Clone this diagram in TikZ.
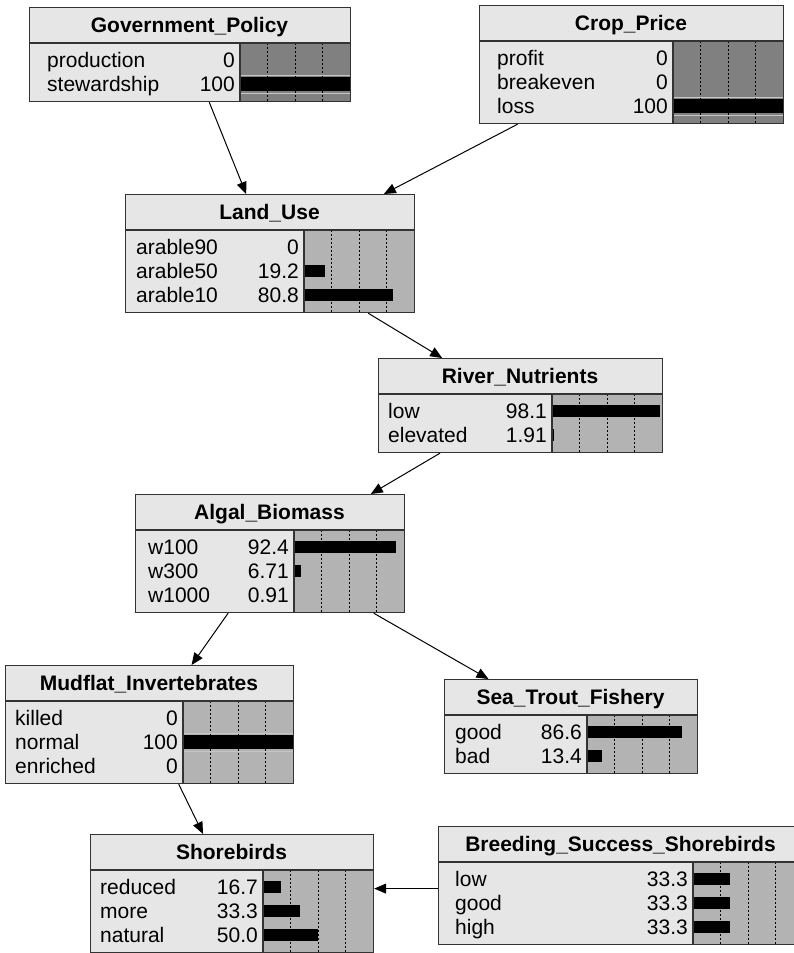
\documentclass[tikz,border=0pt]{standalone}
\usepackage{fontspec}
\setmainfont{Liberation Sans}
\usetikzlibrary{arrows.meta}
\definecolor{nodebg}{HTML}{E6E6E6}
\definecolor{barlight}{HTML}{B3B3B3}
\definecolor{bardark}{HTML}{808080}
\definecolor{edge}{HTML}{333333}

% \bnnode[bar fill]{name}{left}{top}{label x}{bar x}{rows}{title}{state/value,...}
\newcommand{\bnnode}[9][barlight]{%
  \pgfmathsetmacro\bnmid{#4+36}
  \pgfmathsetmacro\bnbot{#4+46+24*#7}
  \pgfmathsetmacro\bnright{#6+110}
  \pgfmathsetmacro\bnw{\bnright-#3}
  \pgfmathsetmacro\bnh{46+24*#7}
  \fill[nodebg] (#3,#4) rectangle (\bnright,\bnbot);
  \fill[#1] (#6,\bnmid) rectangle (\bnright,\bnbot);
  \foreach \k in {1,2,3} {\draw[quarter] (#6+27.5*\k,\bnmid) -- (#6+27.5*\k,\bnbot);}
  \foreach \lab/\val [count=\i] in {#9} {
    \pgfmathsetmacro\yc{\bnmid+24*\i-7}
    \node[txt,anchor=base west] at (#5,\yc+7) {\lab};
    \node[txt,anchor=base east] at (#6-5,\yc+7) {\val};
    \ifdim\val pt=100pt
      \draw[gray!45,line width=1pt] (#6,\yc-9) -- ++(110,0) (#6,\yc+9) -- ++(110,0);
      \fill (#6,\yc-7) rectangle (\bnright,\yc+7);
    \else
      \fill (#6,\yc-6) rectangle (#6+1.1*\val,\yc+6);
    \fi
  }
  \draw[edge,line width=1.2pt] (#3,\bnmid) -- (\bnright,\bnmid) (#6,\bnmid) -- (#6,\bnbot);
  \node[bnbox,minimum width=\bnw pt,minimum height=\bnh pt] (#2) at (#3,#4) {};
  \node[title,anchor=base] at ({(#3+\bnright)/2},{#4+25}) {#8};
}

\begin{document}
\begin{tikzpicture}[x=1pt,y=-1pt,
  font=\fontsize{21}{24}\selectfont,
  txt/.style={inner sep=0pt},
  title/.style={inner sep=0pt,font=\fontsize{21}{24}\selectfont\bfseries},
  bnbox/.style={draw=edge,line width=1.2pt,anchor=north west,inner sep=0pt},
  quarter/.style={line width=1pt,dash pattern=on 2pt off 2pt},
  link/.style={line width=1pt,-{Triangle[length=12pt,width=10pt]}}]
\useasboundingbox (0,0) rectangle (794,953);

% nodes
\bnnode[bardark]{gov}{29}{7}{47}{240}{2}{Government\_Policy}{production/0,stewardship/100}
\bnnode[bardark]{crop}{479}{5}{497}{673}{3}{Crop\_Price}{profit/0,breakeven/0,loss/100}
\bnnode{land}{125}{194}{136}{304}{3}{Land\_Use}{arable90/0,arable50/19.2,arable10/80.8}
\bnnode{river}{378}{358}{388}{552}{2}{River\_Nutrients}{low/98.1,elevated/1.91}
\bnnode{algal}{135}{494}{148}{294}{3}{Algal\_Biomass}{w100/92.4,w300/6.71,w1000/0.91}
\bnnode{mudflat}{5}{665}{15}{183}{3}{Mudflat\_Invertebrates}{killed/0,normal/100,enriched/0}
\bnnode{trout}{444}{679}{455}{587}{2}{Sea\_Trout\_Fishery}{good/86.6,bad/13.4}
\bnnode{shore}{90}{834}{100}{263}{3}{Shorebirds}{reduced/16.7,more/33.3,natural/50.0}
\bnnode{breed}{438}{826}{455}{693}{3}{Breeding\_Success\_Shorebirds}{low/33.3,good/33.3,high/33.3}

% links
\draw[link] (gov) -- (land);
\draw[link] (crop) -- (land);
\draw[link] (land) -- (river);
\draw[link] (river) -- (algal);
\draw[link] (algal) -- (mudflat);
\draw[link] (algal) -- (trout);
\draw[link] (mudflat) -- (shore);
\draw[link] ([yshift=-3pt]breed.west) -- ([yshift=5pt]shore.east);
\end{tikzpicture}
\end{document}
